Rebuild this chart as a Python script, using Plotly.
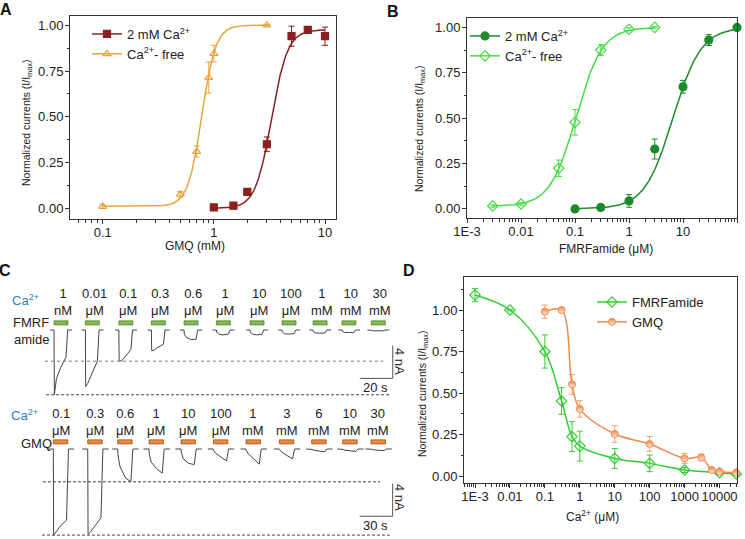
import numpy as np
import plotly.graph_objects as go

W, H = 745, 539
def PX(x): return x / W
def PY(y): return 1 - y / H

FONT = "Arial, Liberation Sans, sans-serif"
TXT = "#222222"

# ---------------- Panel A : GMQ dose response ----------------
A_CA_X = [1, 1.5, 2, 3, 5, 7, 10]
A_CA_Y = [0.005, 0.015, 0.09, 0.35, 0.94, 0.975, 0.94]
A_CA_ERR = [0.004, 0.008, 0.01, 0.04, 0.055, 0.01, 0.05]
A_FREE_X = [0.1, 0.5, 0.7, 0.9, 1.0, 3]
A_FREE_Y = [0.01, 0.077, 0.31, 0.714, 0.845, 1.0]
A_FREE_ERR = [0.01, 0.015, 0.03, 0.085, 0.045, 0.004]
A_CA_FIT = [0.0, 0.975, 3.3, 6.0]      # bottom, top, EC50, Hill n
A_FREE_FIT = [0.012, 1.0, 0.78, 6.9]

# ---------------- Panel B : FMRFamide dose response ----------------
B_CA_X = [0.1, 0.3, 1, 3, 10, 30, 100]
B_CA_Y = [0.0, 0.008, 0.044, 0.33, 0.673, 0.93, 1.0]
B_CA_ERR = [0.004, 0.006, 0.035, 0.055, 0.035, 0.03, 0.004]
B_FREE_X = [0.003, 0.01, 0.05, 0.1, 0.3, 1, 3]
B_FREE_Y = [0.016, 0.027, 0.224, 0.477, 0.875, 0.99, 1.0]
B_FREE_ERR = [0.006, 0.006, 0.045, 0.07, 0.03, 0.008, 0.004]
B_CA_FIT = [0.0, 1.0, 6.5, 1.66]
B_FREE_FIT = [0.015, 1.0, 0.105, 1.8]

# ---------------- Panel D : Ca2+ dependence ----------------
D_FMRF_X = [0.001, 0.01, 0.1, 0.3, 0.6, 1, 10, 100, 1000, 10000, 30000]
D_FMRF_Y = [1.09, 1.0, 0.75, 0.452, 0.237, 0.18, 0.106, 0.076, 0.036, 0.02, 0.012]
D_FMRF_ERR = [0.04, 0.005, 0.1, 0.08, 0.09, 0.09, 0.06, 0.05, 0.015, 0.01, 0.01]
D_GMQ_X = [0.1, 0.3, 0.6, 1, 10, 100, 1000, 3000, 6000, 10000, 30000]
D_GMQ_Y = [0.99, 1.0, 0.552, 0.404, 0.253, 0.193, 0.106, 0.112, 0.036, 0.026, 0.02]
D_GMQ_ERR = [0.04, 0.01, 0.06, 0.05, 0.05, 0.045, 0.03, 0.02, 0.01, 0.01, 0.01]

# ---------------- Panel C : current traces ----------------
FMRF_NUM = ["1", "0.01", "0.1", "0.3", "0.6", "1", "10", "100", "1", "10", "30"]
FMRF_UNIT = ["nM", "μM", "μM", "μM", "μM", "μM", "μM", "μM", "mM", "mM", "mM"]
FMRF_START_S = [0, 19, 39.3, 59, 78.8, 98.4, 118.8, 138.2, 157, 174.5, 192.3]
FMRF_SAMPLE_T = [0.2, 1.5, 4, 7.3]
FMRF_PEAK = [-7.9, -6.9, -3.7, -2.5, -0.5, -0.3, -0.3, -0.25, -0.2, -0.15, -0.05]
FMRF_EARLY = [-5.9, -6.5, -3.8, -2.5, -0.9, -0.5, -0.5, -0.45, -0.35, -0.3, -0.1]
FMRF_MID = [-4.6, -5.3, -3.2, -2.1, -1.15, -0.6, -0.6, -0.5, -0.4, -0.3, -0.1]
FMRF_LATE = [-3.3, -3.8, -2.4, -1.75, -1.15, -0.5, -0.5, -0.45, -0.35, -0.3, -0.1]

GMQ_NUM = ["0.1", "0.3", "0.6", "1", "10", "100", "1", "3", "6", "10", "30"]
GMQ_UNIT = ["μM", "μM", "μM", "μM", "μM", "μM", "mM", "mM", "mM", "mM", "mM"]
GMQ_START_S = [0, 31.3, 58.5, 87, 116.1, 145.5, 175.2, 205.5, 234.9, 263.1, 288.8]
GMQ_SAMPLE_T = [0.3, 2, 7, 12]
GMQ_PEAK = [-10.5, -10.4, -0.7, -0.7, -0.4, -0.2, -0.2, -0.1, -0.05, -0.05, -0.02]
GMQ_EARLY = [-10.2, -10.2, -2.1, -1.6, -1.2, -0.5, -0.6, -0.35, -0.15, -0.15, -0.1]
GMQ_MID = [-9.3, -9.3, -3.5, -2.4, -1.75, -1.0, -1.2, -0.8, -0.25, -0.25, -0.15]
GMQ_LATE = [-8.7, -8.4, -4.0, -2.95, -1.9, -1.45, -1.85, -1.2, -0.35, -0.3, -0.2]

# colours
C_DRED = "#8B1E1E"
C_ORNG = "#E9A33C"
C_DGRN = "#1E8B2A"
C_LGRN = "#44DD44"
C_GRN_D = "#33CC33"
C_ORG_D = "#F08A4B"
C_BLUE = "#2F80C8"


def hill(x, p):
    b, t, ec, n = p
    x = np.asarray(x, dtype=float)
    return b + (t - b) / (1 + (ec / x) ** n)


def log_minor(lo, hi):
    vals = []
    for k in range(lo, hi + 1):
        for m in range(2, 10):
            vals.append(m * 10.0 ** k)
    return vals


fig = go.Figure()


def err(arr, color):
    return dict(type="data", array=arr, visible=True, color=color, thickness=1, width=3)


MS = 7
# ---- Panel A traces
for xs, ys, e, fit, col, sym, name in [
    (A_CA_X, A_CA_Y, A_CA_ERR, A_CA_FIT, C_DRED, "square", "2 mM Ca<sup>2+</sup>"),
    (A_FREE_X, A_FREE_Y, A_FREE_ERR, A_FREE_FIT, C_ORNG, "triangle-up-open", "Ca<sup>2+</sup>- free"),
]:
    xf = np.logspace(np.log10(xs[0]), np.log10(xs[-1]), 200)
    fig.add_trace(go.Scatter(x=xf, y=hill(xf, fit), mode="lines", line=dict(color=col, width=1.5),
                             xaxis="x", yaxis="y", showlegend=False, hoverinfo="skip"))
    mk = dict(symbol=sym, size=MS, color=col, line=dict(color=col, width=1.2))
    fig.add_trace(go.Scatter(x=xs, y=ys, mode="markers", error_y=err(e, col), marker=mk,
                             xaxis="x", yaxis="y", showlegend=False))
    fig.add_trace(go.Scatter(x=[None], y=[None], mode="lines+markers", name=name,
                             line=dict(color=col, width=1.5), marker=mk,
                             xaxis="x", yaxis="y", legend="legend"))

# ---- Panel B traces
for xs, ys, e, fit, col, sym, name in [
    (B_CA_X, B_CA_Y, B_CA_ERR, B_CA_FIT, C_DGRN, "circle", "2 mM Ca<sup>2+</sup>"),
    (B_FREE_X, B_FREE_Y, B_FREE_ERR, B_FREE_FIT, C_LGRN, "diamond-open", "Ca<sup>2+</sup>- free"),
]:
    xf = np.logspace(np.log10(xs[0]), np.log10(xs[-1]), 200)
    fig.add_trace(go.Scatter(x=xf, y=hill(xf, fit), mode="lines", line=dict(color=col, width=1.5),
                             xaxis="x2", yaxis="y2", showlegend=False, hoverinfo="skip"))
    mk = dict(symbol=sym, size=MS + 1, color=col, line=dict(color=col, width=1.2))
    fig.add_trace(go.Scatter(x=xs, y=ys, mode="markers", error_y=err(e, col), marker=mk,
                             xaxis="x2", yaxis="y2", showlegend=False, cliponaxis=False))
    fig.add_trace(go.Scatter(x=[None], y=[None], mode="lines+markers", name=name,
                             line=dict(color=col, width=1.5), marker=mk,
                             xaxis="x2", yaxis="y2", legend="legend2"))

# ---- Panel D traces
fig.add_trace(go.Scatter(x=D_FMRF_X, y=D_FMRF_Y, mode="lines+markers", name="FMRFamide",
                         line=dict(color=C_GRN_D, width=1.5, shape="spline", smoothing=1),
                         error_y=err(D_FMRF_ERR, C_GRN_D), cliponaxis=False,
                         marker=dict(symbol="diamond-open", size=MS + 1, color=C_GRN_D,
                                     line=dict(color=C_GRN_D, width=1.2)),
                         xaxis="x5", yaxis="y5", legend="legend3"))
fig.add_trace(go.Scatter(x=D_GMQ_X, y=D_GMQ_Y, mode="lines+markers", name="GMQ",
                         line=dict(color=C_ORG_D, width=1.5, shape="spline", smoothing=1),
                         error_y=err(D_GMQ_ERR, "#F4A070"), cliponaxis=False,
                         marker=dict(symbol="circle", size=MS, color=C_ORG_D,
                                     gradient=dict(type="vertical", color="#FDEBDD"),
                                     line=dict(color=C_ORG_D, width=1)),
                         xaxis="x5", yaxis="y5", legend="legend3"))


# ---- Panel C current traces
def trace_xy(starts, samp_t, cols, pre, ret, post):
    xs, ys = [], []
    for i, s in enumerate(starts):
        vals = [c[i] for c in cols]
        xs += [s - pre, s] + [s + t for t in samp_t] + [s + ret, s + post, None]
        ys += [0, 0] + vals + [0, 0, None]
    return xs, ys


fx, fy = trace_xy(FMRF_START_S, FMRF_SAMPLE_T, [FMRF_PEAK, FMRF_EARLY, FMRF_MID, FMRF_LATE], 2.3, 8.3, 11)
fig.add_trace(go.Scatter(x=fx, y=fy, mode="lines", line=dict(color="#444", width=1),
                         xaxis="x3", yaxis="y3", showlegend=False, connectgaps=False))
gx, gy = trace_xy(GMQ_START_S, GMQ_SAMPLE_T, [GMQ_PEAK, GMQ_EARLY, GMQ_MID, GMQ_LATE], 5, 13.8, 19)
fig.add_trace(go.Scatter(x=gx, y=gy, mode="lines", line=dict(color="#444", width=1),
                         xaxis="x4", yaxis="y4", showlegend=False, connectgaps=False))

shapes = []
annots = []


def note(text, x, y, size=13, color=TXT, xref="paper", angle=0, bold=False):
    if bold:
        text = f"<b>{text}</b>"
    return dict(x=PX(x) if xref == "paper" else x, y=PY(y), xref=xref, yref="paper", text=text,
                showarrow=False, xanchor="center", yanchor="middle", textangle=angle, align="center",
                font=dict(size=size, color=color, family=FONT))


FMRF_DUR, GMQ_DUR = 8.5, 13.2
for s in FMRF_START_S:
    shapes.append(dict(type="rect", xref="x3", yref="y3", x0=s, x1=s + FMRF_DUR, y0=0.62, y1=1.12,
                       fillcolor="#7CC242", line=dict(color="#3A5A20", width=0.6)))
for s in GMQ_START_S:
    shapes.append(dict(type="rect", xref="x4", yref="y4", x0=s, x1=s + GMQ_DUR, y0=0.62, y1=1.12,
                       fillcolor="#F0883A", line=dict(color="#6A3A10", width=0.6)))

for s, n, u in zip(FMRF_START_S, FMRF_NUM, FMRF_UNIT):
    annots.append(note(f"{n}<br>{u}", s + FMRF_DUR / 2 + 1, 301.5, xref="x3"))
for s, n, u in zip(GMQ_START_S, GMQ_NUM, GMQ_UNIT):
    annots.append(note(f"{n}<br>{u}", s + GMQ_DUR / 2, 421.5, xref="x4"))

# reference lines at peak currents
f_min = [min(v) for v in zip(FMRF_PEAK, FMRF_EARLY, FMRF_MID, FMRF_LATE)]
g_min = [min(v) for v in zip(GMQ_PEAK, GMQ_EARLY, GMQ_MID, GMQ_LATE)]
shapes.append(dict(type="line", xref="x3", yref="y3", x0=-5.5, x1=199.5, y0=f_min[2], y1=f_min[2],
                   line=dict(color="#777", width=1, dash="dot")))
shapes.append(dict(type="line", xref="x3", yref="y3", x0=-4.8, x1=203.6, y0=f_min[0], y1=f_min[0],
                   line=dict(color="#444", width=1, dash="3px,2px")))
shapes.append(dict(type="line", xref="x4", yref="y4", x0=-9.4, x1=297, y0=g_min[2], y1=g_min[2],
                   line=dict(color="#444", width=1, dash="3px,2px")))
shapes.append(dict(type="line", xref="x4", yref="y4", x0=-10.3, x1=306, y0=g_min[0], y1=g_min[0],
                   line=dict(color="#444", width=1, dash="3px,2px")))

# scale bars
SB1_T, SB1_I = 205.3, -5.9
shapes.append(dict(type="path", xref="x3", yref="y3",
                   path=f"M {SB1_T - 20},{SB1_I} L {SB1_T},{SB1_I} L {SB1_T},{SB1_I + 4}",
                   line=dict(color="#555", width=1)))
SB2_T, SB2_I = 308.5, -8.2
shapes.append(dict(type="path", xref="x4", yref="y4",
                   path=f"M {SB2_T - 30},{SB2_I} L {SB2_T},{SB2_I} L {SB2_T},{SB2_I + 4}",
                   line=dict(color="#555", width=1)))
annots += [
    note("4 nA", 400, 361, angle=90),
    note("20 s", 375, 387),
    note("4 nA", 400, 497, angle=90),
    note("30 s", 375, 525),
    note("Ca<sup>2+</sup>", 26, 300, color=C_BLUE),
    note("FMRF", 31, 322),
    note("amide", 31, 339),
    note("Ca<sup>2+</sup>", 24, 415, color=C_BLUE),
    note("GMQ", 36, 443),
]

# panel letters
for letter, x, y in [("A", 6, 10), ("B", 393, 11), ("C", 5, 270), ("D", 409, 270)]:
    annots.append(note(letter, x, y, size=16, color="#111", bold=True))

# axis titles
YT = "Normalized currents (I/I<sub>max</sub>)"
for x, y in [(27, 123), (420, 129), (423, 394)]:
    annots.append(note(YT, x, y, size=10.5, angle=-90))
for t, x, y in [("GMQ (mM)", 195, 246), ("FMRFamide (μM)", 606, 249), ("Ca<sup>2+</sup> (μM)", 592, 516)]:
    annots.append(note(t, x, y, size=12))

BASE = dict(showline=True, linecolor="#333", linewidth=1, mirror=True, ticks="outside", ticklen=4,
            tickwidth=1, tickcolor="#333", showgrid=False, zeroline=False, automargin=False, tickangle=0,
            tickfont=dict(size=13, color=TXT, family=FONT))
YV = [0, 0.25, 0.5, 0.75, 1.0]
YTXT = ["0.00", "0.25", "0.50", "0.75", "1.00"]


def yax(dom, rng, minor_vals, anchor):
    return dict(BASE, domain=dom, range=rng, tickmode="array", tickvals=YV, ticktext=YTXT, anchor=anchor,
                ticklabelstandoff=-1,
                minor=dict(tickmode="array", tickvals=minor_vals, ticks="outside", ticklen=2.5, tickcolor="#333"))


def xax(dom, rng, tv, tt, lo, hi, anchor):
    return dict(BASE, type="log", domain=dom, range=rng, tickmode="array", tickvals=tv, ticktext=tt,
                anchor=anchor, ticklabelstandoff=-3,
                minor=dict(tickmode="array", tickvals=log_minor(lo, hi), ticks="outside", ticklen=2.5,
                           tickcolor="#333"))


HIDDEN = dict(visible=False, showgrid=False, zeroline=False, automargin=False)
LEG = dict(xanchor="left", yanchor="top", bgcolor="rgba(0,0,0,0)",
           font=dict(size=13, color=TXT, family=FONT), tracegroupgap=0, itemwidth=30)

fig.update_layout(
    template="none",
    width=W, height=H, margin=dict(l=0, r=0, t=0, b=0, autoexpand=False),
    paper_bgcolor="white", plot_bgcolor="white",
    font=dict(family=FONT, color=TXT),
    xaxis=xax([PX(70), PX(336)], [-1.294, 1.099], [0.1, 1, 10], ["0.1", "1", "10"], -2, 1, "y"),
    yaxis=yax([PY(219), PY(15.7)], [-0.058, 1.052], [0.125, 0.375, 0.625, 0.875], "x"),
    xaxis2=xax([PX(467), PX(737)], [-3, 2], [0.001, 0.01, 0.1, 1, 10, 100],
               ["1E-3", "0.01", "0.1", "1", "10", "100"], -3, 1, "y2"),
    yaxis2=yax([PY(218), PY(18.3)], [-0.05, 1.05], [0.125, 0.375, 0.625, 0.875], "x2"),
    xaxis5=xax([PX(464), PX(737)], [-3.315, 4.5], [0.001, 0.01, 0.1, 1, 10, 100, 1000, 10000],
               ["1E-3", "0.01", "0.1", "1", "10", "100", "1000", "10000"], -4, 4, "y5"),
    yaxis5=yax([PY(483.3), PY(277.3)], [-0.044, 1.197], [0.125, 0.375, 0.625, 0.875, 1.125], "x5"),
    xaxis3=dict(HIDDEN, domain=[0, PX(400)], range=[-54 / 1.65, (400 - 54) / 1.65], anchor="y3"),
    yaxis3=dict(HIDDEN, domain=[PY(405), PY(280)], range=[-75 / 8.2, 50 / 8.2], anchor="x3"),
    xaxis4=dict(HIDDEN, domain=[0, PX(400)], range=[-53.3 / 1.1, (400 - 53.3) / 1.1], anchor="y4"),
    yaxis4=dict(HIDDEN, domain=[0, PY(405)], range=[-90 / 8.2, 44 / 8.2], anchor="x4"),
    legend=dict(LEG, x=PX(87), y=PY(19)),
    legend2=dict(LEG, x=PX(465), y=PY(21)),
    legend3=dict(LEG, x=PX(592), y=PY(287)),
    shapes=shapes, annotations=annots,
)

fig.write_html("out.html", config={"displayModeBar": False},
               post_script="document.body.style.margin='0';document.body.style.padding='0';"
                           "document.documentElement.style.overflow='hidden';")
